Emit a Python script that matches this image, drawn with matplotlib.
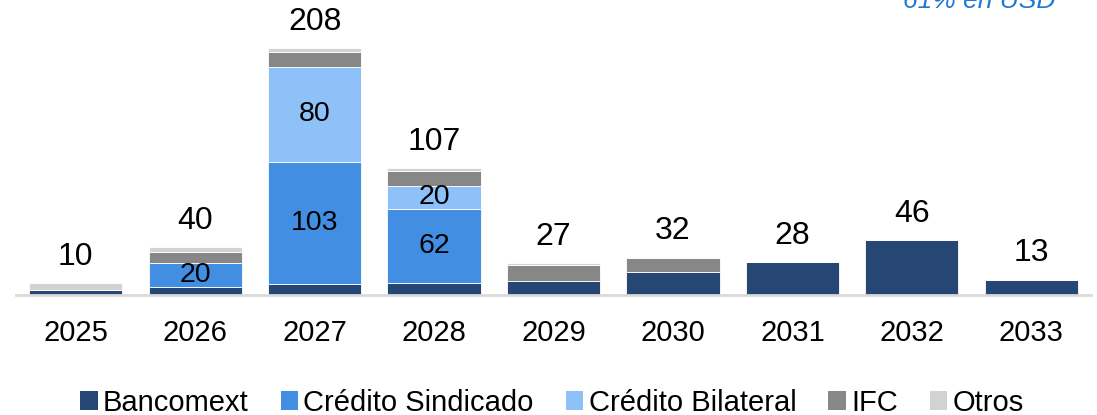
import matplotlib
matplotlib.use("Agg")
import matplotlib.pyplot as plt
from matplotlib.patches import Patch
import numpy as np

plt.rcParams['font.family'] = ['Liberation Sans', 'DejaVu Sans']

years = ["2025", "2026", "2027", "2028", "2029", "2030", "2031", "2032", "2033"]
bancomext = [4, 7, 9, 10, 12, 19, 28, 46, 13]
sindicado = [0, 20, 103, 62, 0, 0, 0, 0, 0]
bilateral = [0, 0, 80, 20, 0, 0, 0, 0, 0]
ifc = [0, 9, 12, 12, 13, 12, 0, 0, 0]
otros = [6, 4, 4, 3, 2, 1, 0, 0, 0]
totals = [10, 40, 208, 107, 27, 32, 28, 46, 13]
series_names = ["Bancomext", "Crédito Sindicado", "Crédito Bilateral", "IFC", "Otros"]
inside_labels = {  # (year index, series index)
    (1, 1): "20", (2, 1): "103", (2, 2): "80", (3, 1): "62", (3, 2): "20",
}
note = "61% en USD"

colors = ["#264673", "#418ee3", "#8fc1f9", "#878787", "#d2d2d2"]

fig = plt.figure(figsize=(10.97, 4.15), dpi=100)
ax = fig.add_axes([16/1097, 120/415, 1075/1097, 295/415])

x = np.arange(len(years))
data = [bancomext, sindicado, bilateral, ifc, otros]
bottom = np.zeros(len(years))
for si, (vals, c) in enumerate(zip(data, colors)):
    vals = np.array(vals, dtype=float)
    ax.bar(x, vals, bottom=bottom, width=0.78, color=c, edgecolor='white', linewidth=0.6)
    for yi in range(len(years)):
        if (yi, si) in inside_labels:
            ax.text(x[yi], bottom[yi] + vals[yi] / 2, inside_labels[(yi, si)],
                    ha='center', va='center', fontsize=20.5, color='black')
    bottom += vals

for xi, t in zip(x, totals):
    ax.annotate(str(t), (xi, t), xytext=(0, 13), textcoords='offset points',
                ha='center', va='baseline', fontsize=23, color='black')

ax.set_xlim(-0.5, 8.5)
ax.set_ylim(0, 248)
for s in ['top', 'right', 'left']:
    ax.spines[s].set_visible(False)
ax.spines['bottom'].set_color('#d9d9d9')
ax.spines['bottom'].set_linewidth(2)
ax.set_yticks([])
ax.set_xticks(x)
ax.set_xticklabels(years, fontsize=21)
ax.tick_params(axis='x', length=0, pad=17)

fig.text(1055/1097, 1 - 8/415, note, ha='right', va='baseline', fontsize=19,
         style='italic', color='#1f78d1')

handles = [Patch(facecolor=c, edgecolor='none') for c in colors]
fig.legend(handles, series_names, loc='center', bbox_to_anchor=(552/1097, 1 - 403/415),
           ncol=5, frameon=False, fontsize=21, handlelength=0.6, handleheight=0.6,
           handletextpad=0.18, columnspacing=1.1, borderaxespad=0)

fig.savefig("out.png", dpi=100)
